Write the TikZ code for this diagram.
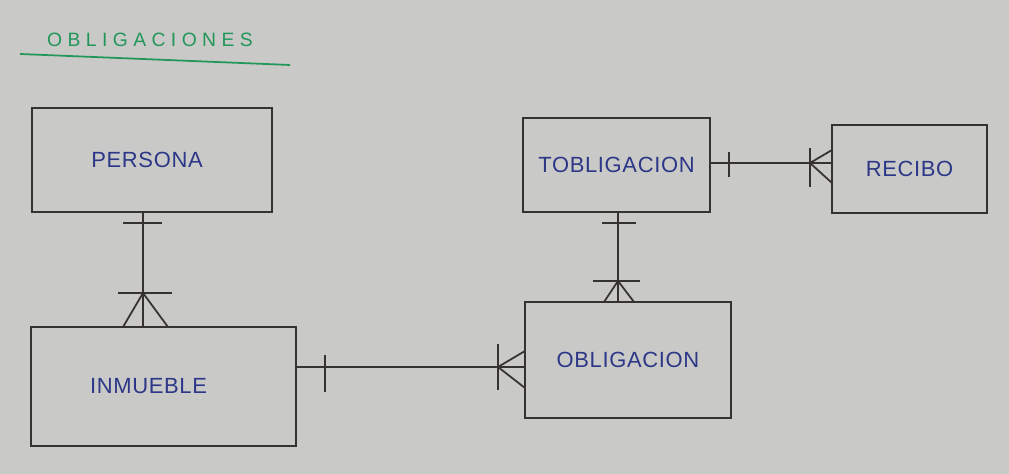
\documentclass[tikz,border=0pt]{standalone}
\usepackage{fontspec}
\setmainfont{Liberation Sans}
\definecolor{pizarra}{RGB}{201,202,200}
\definecolor{tinta}{RGB}{55,50,50}
\definecolor{azul}{RGB}{45,55,135}
\definecolor{verde}{RGB}{35,150,90}
\tikzset{
  entidad/.style={rectangle,draw=tinta,line width=1pt,text=azul,inner sep=0pt,
    font=\fontsize{12.5}{15}\selectfont\addfontfeatures{LetterSpace=3}},
  linea/.style={draw=tinta,line width=1pt},
}
\begin{document}
\begin{tikzpicture}
    \fill[pizarra] (0,0) rectangle (20.18,9.48);
    \useasboundingbox (0,0) rectangle (20.18,9.48);
    %% titulo
    \node[text=verde,font=\fontsize{11}{13}\selectfont\addfontfeatures{LetterSpace=28}] (titulo) at (3.00,8.68) {OBLIGACIONES};
    \draw[verde,line width=1pt] (0.40,8.40) -- (5.80,8.18);
    %% entidades
    \node[entidad,minimum width=4.80cm,minimum height=2.08cm] (persona) at (3.04,6.28) {PERSONA\hspace*{0.2cm}};
    \node[entidad,minimum width=5.30cm,minimum height=2.38cm] (inmueble) at (3.27,1.75) {INMUEBLE\hspace*{0.6cm}};
    \node[entidad,minimum width=3.74cm,minimum height=1.88cm] (tobligacion) at (12.33,6.18) {TOBLIGACION};
    \node[entidad,minimum width=3.10cm,minimum height=1.76cm] (recibo) at (18.19,6.10) {RECIBO};
    \node[entidad,minimum width=4.12cm,minimum height=2.32cm] (obligacion) at (12.56,2.28) {OBLIGACION};
    %% persona - inmueble
    \coordinate (x1) at (2.86,0);
    \draw[linea] (x1 |- persona.south) -- (x1 |- inmueble.north);
    \draw[linea] (2.46,5.02) -- (3.24,5.02);
    \draw[linea] (2.36,3.62) -- (3.44,3.62);
    \draw[linea] (2.46,2.94) -- (2.86,3.62) -- (3.36,2.94);
    %% tobligacion - obligacion
    \coordinate (x2) at (12.36,0);
    \draw[linea] (x2 |- tobligacion.south) -- (x2 |- obligacion.north);
    \draw[linea] (12.04,5.02) -- (12.72,5.02);
    \draw[linea] (11.86,3.86) -- (12.80,3.86);
    \draw[linea] (12.08,3.44) -- (12.36,3.86) -- (12.68,3.44);
    %% tobligacion - recibo
    \coordinate (y3) at (0,6.22);
    \draw[linea] (tobligacion.east |- y3) -- (recibo.west |- y3);
    \draw[linea] (14.58,6.44) -- (14.58,5.94);
    \draw[linea] (16.20,6.52) -- (16.20,5.74);
    \draw[linea] (16.64,6.48) -- (16.20,6.22) -- (16.64,5.82);
    %% inmueble - obligacion
    \coordinate (y4) at (0,2.14);
    \draw[linea] (inmueble.east |- y4) -- (obligacion.west |- y4);
    \draw[linea] (6.50,2.38) -- (6.50,1.64);
    \draw[linea] (9.96,2.60) -- (9.96,1.68);
    \draw[linea] (10.50,2.46) -- (9.96,2.14) -- (10.50,1.72);
\end{tikzpicture}
\end{document}
